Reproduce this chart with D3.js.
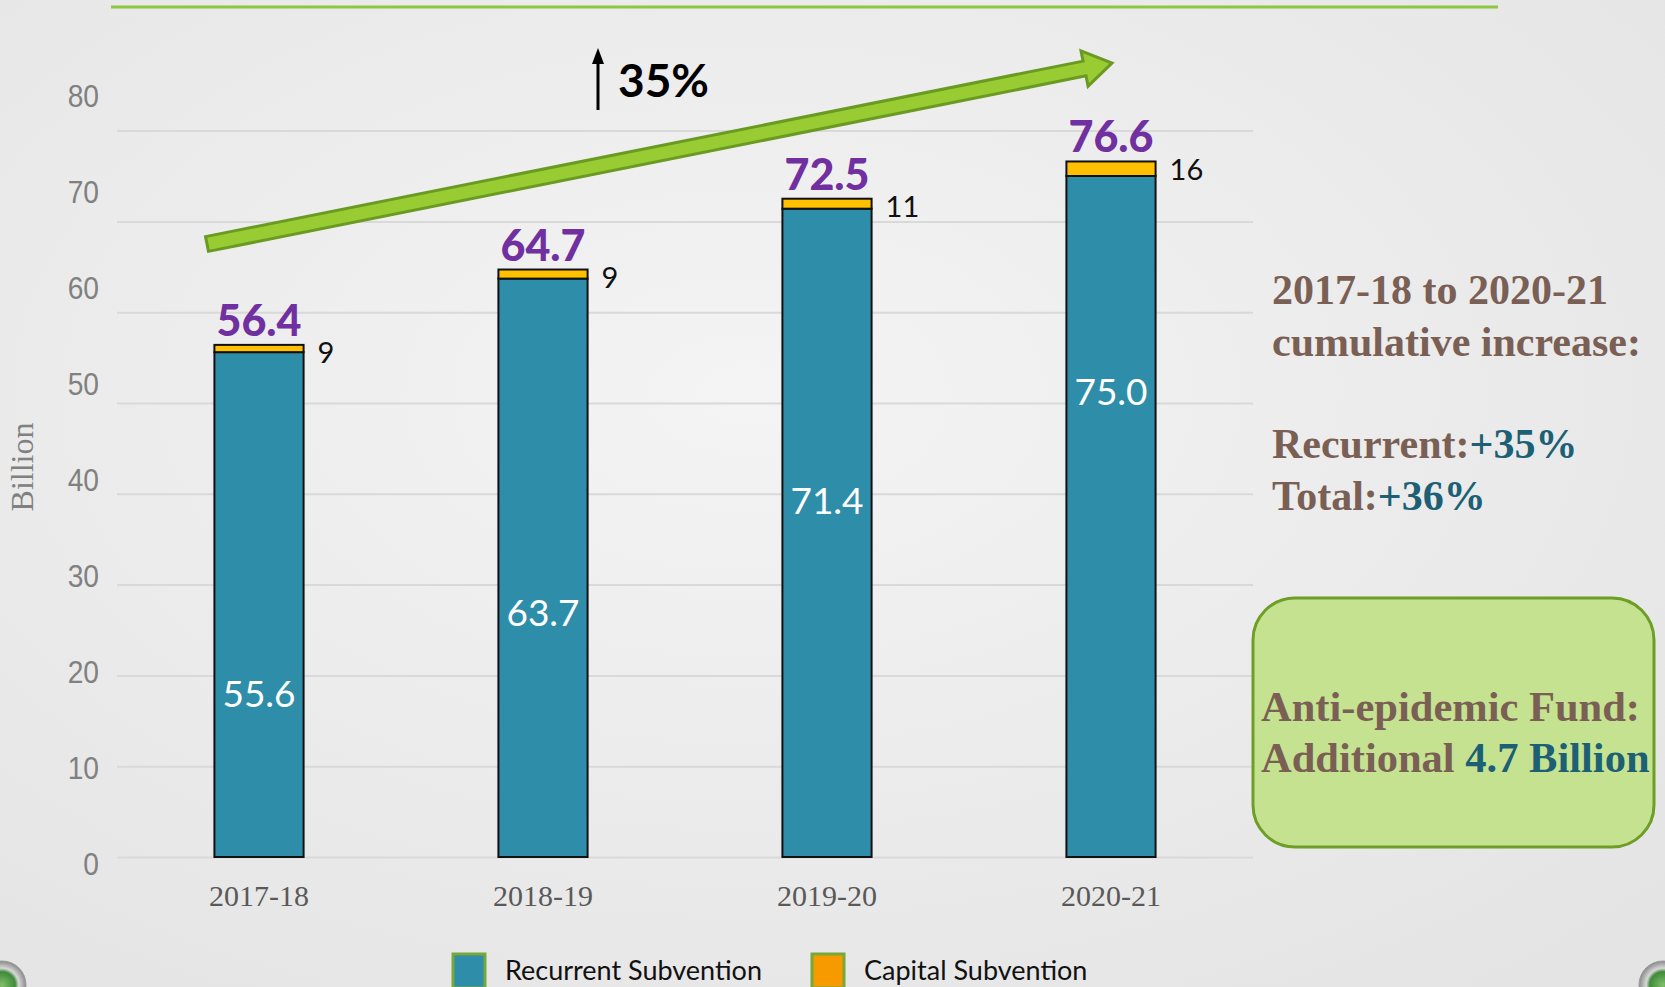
<!DOCTYPE html>
<html>
<head>
<meta charset="utf-8">
<script src="https://cdn.jsdelivr.net/npm/d3@7"></script>
<style>
  body { margin: 0; overflow: hidden; background: #ececec; }
</style>
</head>
<body>
<svg></svg>
<script>
const years = ['2017-18', '2018-19', '2019-20', '2020-21']
const recurrent = [55.6, 63.7, 71.4, 75.0]
const capital = [0.8, 1.0, 1.1, 1.6]
const totals = [56.4, 64.7, 72.5, 76.6]
const capitalLabels = ['9', '9', '11', '16']
const yTicks = [0, 10, 20, 30, 40, 50, 60, 70, 80]
const legendItems = ['Recurrent Subvention', 'Capital Subvention']

const width = 1665,
  height = 987

const colors = {
  recurrent: '#2e8eaa',
  capital: '#ffc000',
  legendCap: '#f79a00',
  purple: '#7030a0',
  brown: '#7a5f55',
  teal: '#1d5f74',
  green: '#99cc33',
  greenDark: '#6b9a22'
}

const svg = d3.select('svg')
  .attr('width', width)
  .attr('height', height)

// background
const defs = svg.append('defs')
const bg = defs.append('radialGradient').attr('id', 'bg')
  .attr('cx', '45%').attr('cy', '40%').attr('r', '75%')
bg.append('stop').attr('offset', '0%').attr('stop-color', '#f4f4f4')
bg.append('stop').attr('offset', '100%').attr('stop-color', '#e4e4e4')
const knob = defs.append('radialGradient').attr('id', 'knob')
knob.append('stop').attr('offset', '0%').attr('stop-color', '#7fbf6a')
knob.append('stop').attr('offset', '55%').attr('stop-color', '#3f8a3a')
knob.append('stop').attr('offset', '70%').attr('stop-color', '#d8d8d8')
knob.append('stop').attr('offset', '100%').attr('stop-color', '#8a8a8a')

svg.append('rect')
  .attr('width', width)
  .attr('height', height)
  .attr('fill', 'url(#bg)')

// top rule
svg.append('line')
  .attr('x1', 111).attr('x2', 1498)
  .attr('y1', 7).attr('y2', 7)
  .attr('stroke', '#8dc63f')
  .attr('stroke-width', 3)

// scales
const x = d3.scaleBand()
  .domain(years)
  .range([117, 1253])
  .paddingInner(0.686)
  .paddingOuter(0.343)

const y = d3.scaleLinear()
  .domain([0, 80])
  .range([857, 130.6])

// tick labels sit slightly off the gridlines in the original slide
const yLabel = d3.scaleLinear()
  .domain([0, 80])
  .range([864, 96])

// gridlines
svg.append('g')
  .attr('transform', 'translate(117,0)')
  .call(d3.axisLeft(y).tickValues(yTicks).tickSize(-1136).tickFormat(''))
  .call(g => g.select('.domain').remove())
  .call(g => g.selectAll('line').attr('stroke', '#d9d9d9').attr('stroke-width', 2))

// y tick labels
svg.append('g')
  .attr('transform', 'translate(99,0)')
  .call(d3.axisLeft(yLabel).tickValues(yTicks).tickSize(0).tickPadding(0))
  .call(g => g.select('.domain').remove())
  .call(g => g.selectAll('text')
    .attr('fill', '#808080')
    .attr('transform', 'scale(0.88,1)')
    .style('font-family', '"Liberation Sans Narrow", "Liberation Sans", sans-serif')
    .style('font-size', '32px'))

svg.append('text')
  .attr('transform', 'translate(33,467) rotate(-90)')
  .attr('text-anchor', 'middle')
  .attr('fill', '#808080')
  .style('font-family', '"Liberation Serif", serif')
  .style('font-size', '32px')
  .text('Billion')

// x labels
svg.append('g')
  .attr('transform', 'translate(0,857)')
  .call(d3.axisBottom(x).tickSize(0).tickPadding(28))
  .call(g => g.select('.domain').remove())
  .call(g => g.selectAll('text')
    .attr('fill', '#595959')
    .style('font-family', '"Liberation Serif", serif')
    .style('font-size', '30px'))

// bars
const bars = svg.append('g')
  .selectAll('g')
  .data(years)
  .enter().append('g')

bars.append('rect')
  .attr('x', d => x(d))
  .attr('width', x.bandwidth())
  .attr('y', (d, i) => y(recurrent[i]))
  .attr('height', (d, i) => y(0) - y(recurrent[i]))
  .attr('fill', colors.recurrent)
  .attr('stroke', '#111')
  .attr('stroke-width', 2)

bars.append('rect')
  .attr('x', d => x(d))
  .attr('width', x.bandwidth())
  .attr('y', (d, i) => y(recurrent[i] + capital[i]))
  .attr('height', (d, i) => y(recurrent[i]) - y(recurrent[i] + capital[i]))
  .attr('fill', colors.capital)
  .attr('stroke', '#111')
  .attr('stroke-width', 2)

// totals above bars
bars.append('text')
  .attr('x', d => x(d) + x.bandwidth() / 2)
  .attr('y', (d, i) => y(totals[i]) - 9)
  .attr('text-anchor', 'middle')
  .attr('fill', colors.purple)
  .style('font-family', 'Lato, sans-serif')
  .style('font-weight', 900)
  .style('font-size', '43px')
  .text((d, i) => totals[i].toFixed(1))

// capital labels
bars.append('text')
  .attr('x', d => x(d) + x.bandwidth() + 14)
  .attr('y', (d, i) => y(totals[i]) + 8)
  .attr('dy', '0.35em')
  .attr('fill', '#111')
  .style('font-family', 'Lato, sans-serif')
  .style('font-size', '29px')
  .text((d, i) => capitalLabels[i])

// recurrent labels inside bars (height where the slide placed them)
const innerLabelAt = [18, 26.9, 39.2, 51.2]
bars.append('text')
  .attr('x', d => x(d) + x.bandwidth() / 2)
  .attr('y', (d, i) => y(innerLabelAt[i]))
  .attr('dy', '0.36em')
  .attr('text-anchor', 'middle')
  .attr('fill', '#fff')
  .style('font-family', 'Lato, sans-serif')
  .style('font-size', '37px')
  .text((d, i) => recurrent[i].toFixed(1))

// green trend arrow
const a0 = [207, 244], a1 = [1112, 63]
const len = Math.hypot(a1[0] - a0[0], a1[1] - a0[1])
const ang = Math.atan2(a1[1] - a0[1], a1[0] - a0[0]) * 180 / Math.PI
const sw = 7.5, hw = 18, hl = 28
svg.append('path')
  .attr('transform', `translate(${a0[0]},${a0[1]}) rotate(${ang})`)
  .attr('d', `M0,${-sw} L${len - hl},${-sw} L${len - hl},${-hw} L${len},0 L${len - hl},${hw} L${len - hl},${sw} L0,${sw} Z`)
  .attr('fill', colors.green)
  .attr('stroke', colors.greenDark)
  .attr('stroke-width', 3)
  .attr('stroke-linejoin', 'miter')

// up arrow with 35%
svg.append('line')
  .attr('x1', 598).attr('x2', 598)
  .attr('y1', 62).attr('y2', 110)
  .attr('stroke', '#000')
  .attr('stroke-width', 3)
svg.append('path')
  .attr('d', 'M598,48 L592,64 L604,64 Z')
  .attr('fill', '#000')
svg.append('text')
  .attr('x', 618).attr('y', 97)
  .attr('fill', '#000')
  .style('font-family', 'Lato, sans-serif')
  .style('font-weight', 700)
  .style('font-size', '46px')
  .text('35%')

// right side notes
svg.append('rect')
  .attr('x', 1253).attr('y', 598)
  .attr('width', 401).attr('height', 249)
  .attr('rx', 42).attr('ry', 42)
  .attr('fill', '#c5e290')
  .attr('stroke', '#6e9e26')
  .attr('stroke-width', 3)

const serif = '"Liberation Serif", "Times New Roman", serif'
const note = svg.append('g')
  .style('font-family', serif)
  .style('font-weight', 700)
  .style('font-size', '42px')

note.append('text').attr('x', 1272).attr('y', 304).attr('fill', colors.brown).text('2017-18 to 2020-21')
note.append('text').attr('x', 1272).attr('y', 356).attr('fill', colors.brown).text('cumulative increase:')

const r1 = note.append('text').attr('x', 1272).attr('y', 458)
r1.append('tspan').attr('fill', colors.brown).text('Recurrent:')
r1.append('tspan').attr('fill', colors.teal).text('+35%')
const r2 = note.append('text').attr('x', 1272).attr('y', 510)
r2.append('tspan').attr('fill', colors.brown).text('Total:')
r2.append('tspan').attr('fill', colors.teal).text('+36%')

note.append('text').attr('x', 1261).attr('y', 721).attr('fill', colors.brown)
  .style('font-size', '42.5px').text('Anti-epidemic Fund:')
const b2 = note.append('text').attr('x', 1261).attr('y', 772).style('font-size', '42.5px')
b2.append('tspan').attr('fill', colors.brown).text('Additional ')
b2.append('tspan').attr('fill', colors.teal).text('4.7 Billion')

// legend
const legendX = [453, 812]
const legendFill = [colors.recurrent, colors.legendCap]
const legend = svg.append('g')
  .selectAll('g')
  .data(legendItems)
  .enter().append('g')
  .attr('transform', (d, i) => `translate(${legendX[i]},954)`)

legend.append('rect')
  .attr('width', 32).attr('height', 34)
  .attr('fill', (d, i) => legendFill[i])
  .attr('stroke', '#77a83a')
  .attr('stroke-width', 3)

legend.append('text')
  .attr('x', 52).attr('y', 26)
  .attr('fill', '#111')
  .style('font-family', 'Lato, sans-serif')
  .style('font-size', '27px')
  .text(d => d)

// corner knobs of the slide frame
svg.selectAll('.knob')
  .data([[2, 985], [1663, 985]])
  .enter().append('circle')
  .attr('class', 'knob')
  .attr('cx', d => d[0]).attr('cy', d => d[1])
  .attr('r', 24)
  .attr('fill', 'url(#knob)')
  .attr('stroke', '#9a9a9a')
</script>
</body>
</html>
